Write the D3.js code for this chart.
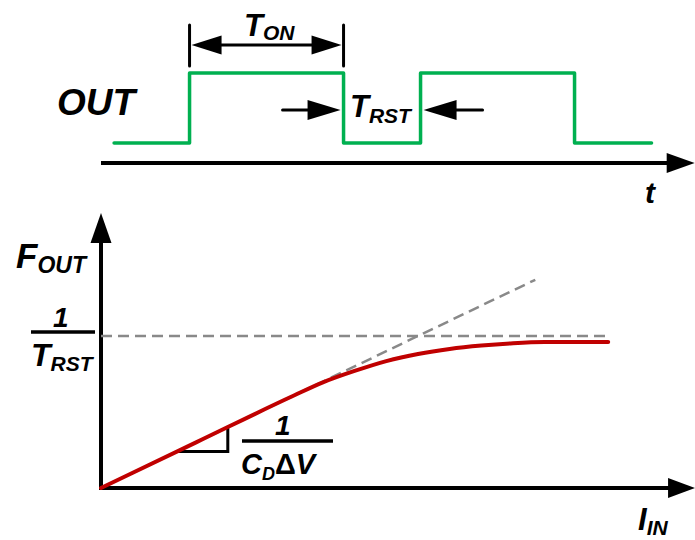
<!DOCTYPE html>
<html><head><meta charset="utf-8">
<script src="https://cdn.jsdelivr.net/npm/d3@7"></script>
<style>
html,body{margin:0;padding:0;background:#fff;}
svg{display:block;}
text{font-family:"Liberation Sans",Arial,sans-serif;font-weight:bold;font-style:italic;fill:#000;}
</style></head><body>
<svg id="chart" width="695" height="540"></svg>
<script>
// OUT pulse train: edge times in units of TRST (TON = 2, TRST = 1)
const pulseTimes  = [0.17, 1.15, 1.15, 3.15, 3.15, 4.15, 4.15, 6.15, 6.15, 7.15];
const pulseLevels = [0,    0,    1,    1,    0,    0,    1,    1,    0,    0];
const tonSpan  = [1.15, 3.15];
const trstSpan = [3.15, 4.15];
const timeAxisEnd = 7.71;

// F_OUT versus I_IN, normalised so that 1/TRST = 1 and the linear slope 1/(CD·ΔV) = 1
const iIn  = [0, 0.3, 0.6, 0.7,   0.8,  0.9,   1.0,   1.1,   1.2,   1.3,   1.4,  1.5,   1.6];
const fOut = [0, 0.3, 0.6, 0.695, 0.77, 0.835, 0.882, 0.915, 0.937, 0.952, 0.96, 0.961, 0.961];
const slopeAsymptote = [[0, 0], [1.37, 1.37]];
const rstLevel = [[0, 1], [1.606, 1]];
const slopeTriangle = [[0.24, 0.24], [0.40, 0.24], [0.40, 0.40]];
const xAxisEnd = 1.874, yAxisEnd = 1.81;

const GREEN = "#00b050", RED = "#c00000", GREY = "#898989";
const svg = d3.select("#chart");

// ---------- scales ----------
const tScale = d3.scaleLinear().domain([0, 1]).range([101, 178]);
const levelScale = d3.scaleLinear().domain([0, 1]).range([143, 73]);
const timeAxisY = 163;

const x = d3.scaleLinear().domain([0, 1]).range([101, 418]);
const y = d3.scaleLinear().domain([0, 1]).range([488, 336]);

// filled arrowhead: tip at (tx,ty), pointing along (dx,dy)
function arrowHead(g, tx, ty, dx, dy, len, halfW) {
  const bx = tx - dx * len, by = ty - dy * len;
  const px = -dy * halfW, py = dx * halfW;
  g.append("path")
    .attr("d", `M${tx},${ty}L${bx + px},${by + py}L${bx - px},${by - py}Z`)
    .attr("fill", "#000");
}

// ---------- timing diagram ----------
const timing = svg.append("g");

timing.append("line")
  .attr("x1", tScale(0)).attr("x2", tScale(timeAxisEnd) - 20)
  .attr("y1", timeAxisY).attr("y2", timeAxisY)
  .attr("stroke", "#000").attr("stroke-width", 4);
arrowHead(timing, tScale(timeAxisEnd), timeAxisY, 1, 0, 28, 10);

const pulse = d3.line()
  .x((d, i) => tScale(pulseTimes[i]))
  .y((d, i) => levelScale(pulseLevels[i]));
timing.append("path")
  .attr("d", pulse(pulseTimes))
  .attr("fill", "none").attr("stroke", GREEN).attr("stroke-width", 3.5)
  .attr("stroke-linejoin", "round").attr("stroke-linecap", "round");

// TON dimension
const tonY = 45;
tonSpan.forEach(t => {
  timing.append("line")
    .attr("x1", tScale(t)).attr("x2", tScale(t))
    .attr("y1", 25).attr("y2", 66)
    .attr("stroke", "#000").attr("stroke-width", 3).attr("stroke-linecap", "round");
});
timing.append("line")
  .attr("x1", tScale(tonSpan[0]) + 10).attr("x2", tScale(tonSpan[1]) - 10)
  .attr("y1", tonY).attr("y2", tonY)
  .attr("stroke", "#000").attr("stroke-width", 3);
arrowHead(timing, tScale(tonSpan[0]) + 2, tonY, -1, 0, 30, 9.5);
arrowHead(timing, tScale(tonSpan[1]) - 2, tonY, 1, 0, 30, 9.5);

// TRST dimension
const trstY = 110;
timing.append("line")
  .attr("x1", tScale(trstSpan[0]) - 61).attr("x2", tScale(trstSpan[0]) - 20)
  .attr("y1", trstY).attr("y2", trstY)
  .attr("stroke", "#000").attr("stroke-width", 3).attr("stroke-linecap", "round");
arrowHead(timing, tScale(trstSpan[0]) - 3, trstY, 1, 0, 33, 10);
timing.append("line")
  .attr("x1", tScale(trstSpan[1]) + 20).attr("x2", tScale(trstSpan[1]) + 62)
  .attr("y1", trstY).attr("y2", trstY)
  .attr("stroke", "#000").attr("stroke-width", 3).attr("stroke-linecap", "round");
arrowHead(timing, tScale(trstSpan[1]) + 3, trstY, -1, 0, 33, 10);

// labels
timing.append("text").attr("x", 57).attr("y", 115).style("font-size", "37px").text("OUT");

const ton = timing.append("text").attr("x", 244).attr("y", 36).style("font-size", "31px");
ton.append("tspan").text("T");
ton.append("tspan").attr("y", 40).style("font-size", "21px").text("ON");

const trst = timing.append("text").attr("x", 350).attr("y", 117).style("font-size", "31px");
trst.append("tspan").text("T");
trst.append("tspan").attr("y", 123).style("font-size", "21px").text("RST");

timing.append("text").attr("x", 645).attr("y", 203).style("font-size", "30px").text("t");

// ---------- transfer characteristic ----------
const transfer = svg.append("g");

transfer.append("line")
  .attr("x1", x(0)).attr("x2", x(0))
  .attr("y1", y(0) + 2).attr("y2", y(yAxisEnd) + 20)
  .attr("stroke", "#000").attr("stroke-width", 4);
arrowHead(transfer, x(0), y(yAxisEnd), 0, -1, 30, 10.5);

transfer.append("line")
  .attr("x1", x(0) - 2).attr("x2", x(xAxisEnd) - 20)
  .attr("y1", y(0)).attr("y2", y(0))
  .attr("stroke", "#000").attr("stroke-width", 4);
arrowHead(transfer, x(xAxisEnd), y(0), 1, 0, 27, 10);

const seg = d3.line().x(d => x(d[0])).y(d => y(d[1]));

transfer.append("path")
  .attr("d", seg(rstLevel))
  .attr("fill", "none").attr("stroke", GREY).attr("stroke-width", 2.5)
  .attr("stroke-dasharray", "11,6");

transfer.append("path")
  .attr("d", seg(slopeAsymptote))
  .attr("fill", "none").attr("stroke", GREY).attr("stroke-width", 2.5)
  .attr("stroke-dasharray", "11,6");

transfer.append("path")
  .attr("d", seg(slopeTriangle))
  .attr("fill", "none").attr("stroke", "#000").attr("stroke-width", 3);

const curve = d3.line()
  .x((d, i) => x(iIn[i]))
  .y((d, i) => y(fOut[i]))
  .curve(d3.curveMonotoneX);
transfer.append("path")
  .attr("d", curve(iIn))
  .attr("fill", "none").attr("stroke", RED).attr("stroke-width", 4)
  .attr("stroke-linecap", "round");

// axis titles
const fo = transfer.append("text").attr("x", 16).attr("y", 268).style("font-size", "35px");
fo.append("tspan").text("F");
fo.append("tspan").attr("y", 273).style("font-size", "23px").text("OUT");

const ii = transfer.append("text").attr("x", 638).attr("y", 530).style("font-size", "31px");
ii.append("tspan").text("I");
ii.append("tspan").attr("y", 535).style("font-size", "21px").text("IN");

// 1 / TRST on the vertical axis
transfer.append("text").attr("x", 53).attr("y", 327).style("font-size", "28px").text("1");
transfer.append("line").attr("x1", 31).attr("x2", 95).attr("y1", 332).attr("y2", 332)
  .attr("stroke", "#000").attr("stroke-width", 3.5);
const rt = transfer.append("text").attr("x", 31).attr("y", 366).style("font-size", "32px");
rt.append("tspan").text("T");
rt.append("tspan").attr("y", 371).style("font-size", "21px").text("RST");

// slope 1 / (CD ΔV)
transfer.append("text").attr("x", 275).attr("y", 435).style("font-size", "28px").text("1");
transfer.append("line").attr("x1", 242).attr("x2", 333).attr("y1", 441).attr("y2", 441)
  .attr("stroke", "#000").attr("stroke-width", 3.5);
const cd = transfer.append("text").attr("x", 241).attr("y", 474).style("font-size", "29px");
cd.append("tspan").text("C");
cd.append("tspan").attr("y", 480).style("font-size", "18px").text("D");
cd.append("tspan").attr("y", 474).style("font-size", "29px").style("font-style", "normal").text("Δ");
cd.append("tspan").style("font-size", "29px").text("V");
</script>
</body></html>
